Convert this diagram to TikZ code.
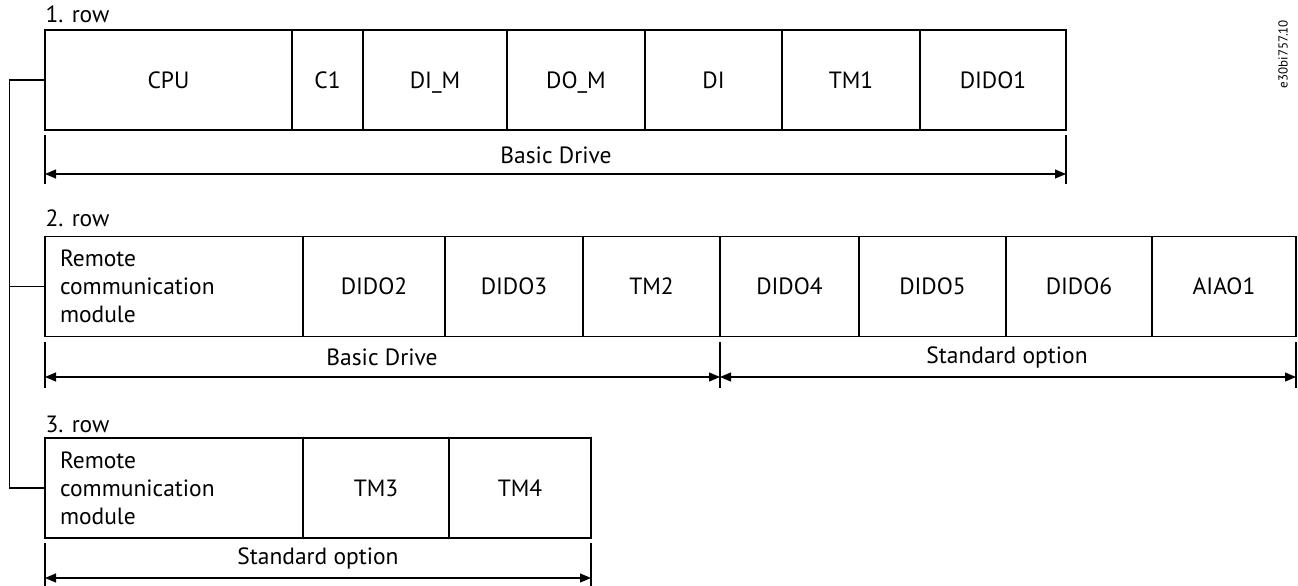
\documentclass[tikz,border=0pt]{standalone}
\usepackage{fontspec}
\setmainfont{PT Sans}
\usetikzlibrary{arrows.meta}
\begin{document}
\begin{tikzpicture}[x=1pt,y=-1pt,line width=1.1pt,
  txt/.style={font=\fontsize{23.5}{28}\selectfont},
  cell/.style={draw, txt, minimum height=100pt, inner sep=0pt, outer sep=0pt, anchor=west},
  rcm/.style={cell, minimum width=258pt, text width=228pt, align=left, inner xsep=15pt},
  lbl/.style={txt, inner sep=0pt},
  dim/.style={{Triangle[length=11pt,width=9pt]}-{Triangle[length=11pt,width=9pt]}},
  tickline/.style={line width=1.1pt}]
\useasboundingbox (0,0) rectangle (1298,586);

% row labels
\node[lbl, anchor=base west] (r1) at (45,23) {1. row};
\node[lbl, anchor=base west] (r2) at (45,226) {2. row};
\node[lbl, anchor=base west] (r3) at (45,432) {3. row};

% row 1
\node[cell, minimum width=247pt] (cpu) at (45,80) {CPU};
\node[cell, minimum width=71pt, line width=1.6pt] (c1) at (cpu.east) {C1};
\node[cell, minimum width=144pt, text depth=0pt] (dim1) at (c1.east) {DI\_M};
\node[cell, minimum width=138pt, text depth=0pt] (dom) at (dim1.east) {DO\_M};
\node[cell, minimum width=137pt] (di) at (dom.east) {DI};
\node[cell, minimum width=138pt] (tm1) at (di.east) {TM1};
\node[cell, minimum width=146pt] (dido1) at (tm1.east) {DIDO1};

% row 2
\node[rcm] (rcm2) at (45,286.5) {Remote\\communication\\module};
\node[cell, minimum width=142pt] (dido2) at (rcm2.east) {DIDO2};
\node[cell, minimum width=138pt] (dido3) at (dido2.east) {DIDO3};
\node[cell, minimum width=137pt] (tm2) at (dido3.east) {TM2};
\node[cell, minimum width=139pt] (dido4) at (tm2.east) {DIDO4};
\node[cell, minimum width=147pt] (dido5) at (dido4.east) {DIDO5};
\node[cell, minimum width=146pt] (dido6) at (dido5.east) {DIDO6};
\node[cell, minimum width=144pt] (aiao1) at (dido6.east) {AIAO1};

% row 3
\node[rcm] (rcm3) at (45,488) {Remote\\communication\\module};
\node[cell, minimum width=146pt] (tm3) at (rcm3.east) {TM3};
\node[cell, minimum width=142pt] (tm4) at (tm3.east) {TM4};

% left bus
\coordinate (bus) at (9.5,0);
\draw (cpu.west) -- (cpu.west -| bus) |- (rcm3.west);
\draw (rcm2.west) -- (rcm2.west -| bus);

% dimension row 1
\draw[tickline] (45,135) -- (45,184);
\draw[tickline] (1066,135) -- (1066,184);
\coordinate (a1) at (45,174);
\coordinate (b1) at (1066,174);
\draw[dim] (a1) -- (b1);
\node[lbl] (bd1) at (556,155) {Basic Drive};

% dimension row 2
\draw[tickline] (45,342) -- (45,388);
\draw[tickline] (720,342) -- (720,388);
\draw[tickline] (1296,342) -- (1296,388);
\coordinate (a2) at (45,377);
\coordinate (m2) at (720,377);
\coordinate (b2) at (1296,377);
\draw[dim] (a2) -- (m2);
\draw[dim] (m2) -- (b2);
\node[lbl] (bd2) at (382,357) {Basic Drive};
\node[lbl] (so2) at (1007,357) {Standard option};

% dimension row 3
\draw[tickline] (45,543) -- (45,590);
\draw[tickline] (591,543) -- (591,590);
\coordinate (a3) at (45,578);
\coordinate (b3) at (591,578);
\draw[dim] (a3) -- (b3);
\node[lbl] (so3) at (318,558) {Standard option};

% figure code
\node[font=\fontsize{13}{15}\selectfont, rotate=90, inner sep=0pt] (code) at (1283,54) {e30bi757.10};
\end{tikzpicture}
\end{document}
